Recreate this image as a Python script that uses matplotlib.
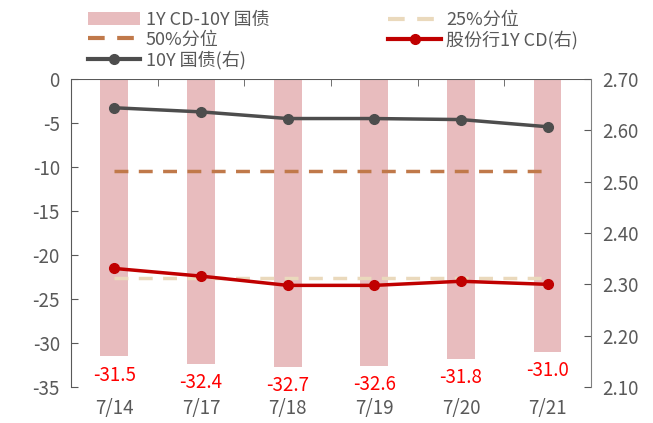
import matplotlib.pyplot as plt
import numpy as np

plt.rcParams['font.family'] = ['Noto Sans CJK SC', 'DejaVu Sans']
plt.rcParams['axes.unicode_minus'] = False

dates = ['7/14', '7/17', '7/18', '7/19', '7/20', '7/21']
spread = [-31.5, -32.4, -32.7, -32.6, -31.8, -31.0]
pct25 = [-22.6] * 6
pct50 = [-10.4] * 6
cd_1y = [2.331, 2.316, 2.298, 2.298, 2.306, 2.300]
gov_10y = [2.644, 2.636, 2.623, 2.623, 2.621, 2.607]

txt = '#595959'
x = np.arange(len(dates))

fig = plt.figure(figsize=(6.53, 4.23), dpi=100)
ax = fig.add_axes([0.1087, 0.0851, 0.7963, 0.7281])
ax2 = ax.twinx()

b = ax.bar(x, spread, width=0.32, color='#E8BCBE', label='1Y CD-10Y 国债', zorder=1)
l25, = ax.plot(x, pct25, color='#EAD9BC', lw=2.5, dashes=(4, 3), label='25%分位', zorder=2)
l50, = ax.plot(x, pct50, color='#C0794A', lw=2.5, dashes=(4, 3), label='50%分位', zorder=2)
for xi, v in zip(x, spread):
    ax.annotate(f'{v:.1f}', (xi, v), xytext=(0, -6), textcoords='offset points',
                ha='center', va='top', color='#FF0000', fontsize=13.5)

lcd, = ax2.plot(x, cd_1y, color='#C00000', lw=2.5, marker='o', ms=7, label='股份行1Y CD(右)')
lgv, = ax2.plot(x, gov_10y, color='#4D4D4D', lw=2.5, marker='o', ms=7, label='10Y 国债(右)')

ax.set_xlim(-0.5, len(dates) - 0.5)
ax.set_ylim(-35, 0)
ax.set_yticks(np.arange(-35, 1, 5))
ax2.set_ylim(2.10, 2.70)
ax2.set_yticks(np.arange(2.10, 2.701, 0.10))
ax2.set_yticklabels([f'{v:.2f}' for v in np.arange(2.10, 2.701, 0.10)])

# category labels at the bottom, boundary ticks on the zero line
ax.set_xticks(x)
ax.set_xticklabels(dates)
ax.tick_params(axis='x', length=0, colors=txt, labelsize=13.5, pad=8)
ax.set_xticks(np.arange(0.5, len(dates) - 1, 1), minor=True)
ax.tick_params(axis='x', which='minor', direction='in', length=5, color=txt, top=True, bottom=False)
ax.axhline(0, color=txt, lw=1.5, zorder=3)

ax.tick_params(axis='y', direction='in', length=5, colors=txt, labelsize=13.5, pad=8)
ax2.tick_params(axis='y', direction='in', length=5, colors=txt, labelsize=13.5, pad=8)
for a in (ax, ax2):
    for s in ('top', 'bottom'):
        a.spines[s].set_visible(False)
    a.spines['left'].set_color(txt)
    a.spines['right'].set_color('#808080')
ax.spines['right'].set_visible(False)
ax2.spines['left'].set_visible(False)

leg = fig.legend([b, l50, lgv, l25, lcd],
                 [h.get_label() for h in (b, l50, lgv, l25, lcd)],
                 ncol=2, loc='upper left', bbox_to_anchor=(0.118, 1.0), frameon=False,
                 fontsize=13, labelcolor=txt, handlelength=2.9, handletextpad=0.3,
                 columnspacing=6.6, labelspacing=0.1, borderaxespad=0.2)
for h in leg.legend_handles[1:]:
    h.set_linewidth(3)

fig.savefig('out.png', dpi=100)
